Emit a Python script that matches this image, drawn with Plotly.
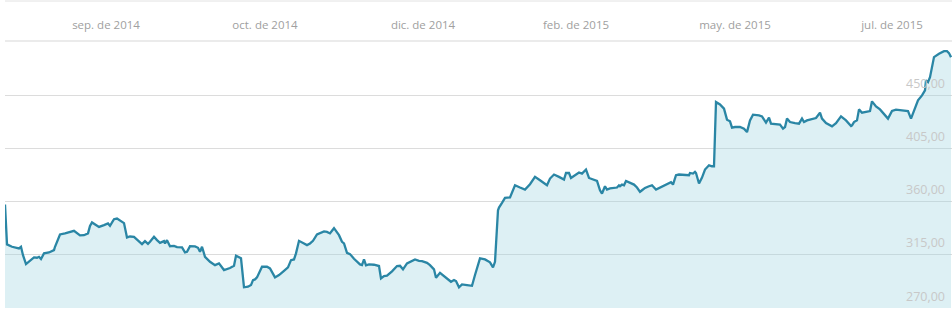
import plotly.graph_objects as go

# trading-session index and closing values
session = [0, 2, 7, 12, 14, 16, 18, 21, 25, 29, 32, 34, 36, 39, 44, 49, 50, 55, 60, 65,
           69, 75, 79, 83, 85, 87, 90, 94, 99, 103, 105, 109, 112, 119, 122, 125, 129, 131, 137, 140,
           143, 145, 149, 152, 155, 159, 160, 162, 165, 169, 172, 177, 180, 182, 185, 190, 193, 195, 197, 200,
           205, 210, 214, 219, 225, 229, 231, 236, 239, 243, 246, 248, 250, 252, 257, 262, 265, 270, 274, 279,
           283, 286, 289, 291, 294, 299, 302, 305, 308, 312, 315, 319, 322, 325, 327, 329, 334, 337, 339, 342,
           345, 349, 355, 357, 359, 361, 364, 369, 374, 376, 379, 382, 387, 392, 395, 398, 402, 407, 410, 414,
           417, 422, 425, 429, 431, 435, 439, 444, 446, 449, 451, 454, 457, 462, 467, 470, 474, 475, 480, 485,
           488, 490, 493, 494, 497, 500, 505, 509, 510, 515, 520, 525, 530, 535, 542, 545, 549, 554, 559, 561,
           564, 566, 570, 574, 577, 579, 581, 584, 587, 592, 595, 597, 600, 602, 605, 609, 612, 614, 615, 617,
           619, 621, 625, 629, 632, 635, 637, 640, 644, 647, 651, 655, 659, 664, 666, 668, 671, 674, 679, 684,
           685, 688, 690, 691, 694, 697, 700, 704, 707, 709, 711, 715, 719, 722, 725, 727, 730, 735, 739, 742,
           745, 748, 754, 757, 761, 764, 766, 772, 775, 778, 780, 782, 785, 790, 794, 797, 799, 802, 806, 811,
           815, 817, 821, 827, 831, 836, 841, 846, 847, 849, 852, 854, 857, 861, 865, 867, 871, 875, 879, 883,
           887, 891, 897, 903, 906, 910, 913, 917, 920, 921, 923, 925, 927, 929, 934, 939, 942, 944, 946]

price = [357.6, 323.8, 321.8, 320.4, 320.4, 321.8, 314.7, 307.1, 309.9, 312.8, 312.5, 313.3, 311.4, 316.2, 317.0, 319.0, 321.8, 332.2, 333.1, 334.2,
         335.3, 331.4, 331.6, 333.1, 339.5, 342.4, 340.9, 338.6, 340.1, 341.5, 339.5, 345.1, 345.7, 341.8, 329.7, 330.5, 330.2, 328.8, 324.0, 326.6,
         324.3, 326.0, 330.2, 327.4, 325.1, 326.6, 324.6, 327.4, 322.3, 322.6, 321.5, 321.2, 317.0, 317.5, 322.3, 322.1, 320.9, 317.5, 321.8, 313.3,
         309.1, 306.3, 307.7, 302.1, 303.8, 305.7, 314.2, 312.0, 287.5, 288.0, 289.4, 293.6, 294.2, 295.9, 304.9, 304.9, 303.5, 295.9, 297.9, 301.5,
         304.4, 310.5, 311.1, 316.2, 326.8, 324.6, 323.2, 324.6, 326.8, 332.2, 333.6, 334.8, 334.4, 333.1, 335.3, 337.5, 331.6, 326.0, 324.6, 316.7,
         315.6, 311.6, 306.9, 306.3, 311.1, 306.1, 306.9, 306.6, 305.5, 295.1, 297.0, 297.3, 301.0, 305.5, 305.7, 302.7, 307.7, 309.7, 311.1, 309.9,
         309.7, 308.2, 306.3, 302.7, 295.6, 299.8, 297.0, 293.6, 292.2, 293.6, 292.8, 287.5, 290.0, 289.4, 288.8, 297.9, 310.5, 312.0, 311.1, 308.6,
         304.4, 309.1, 352.7, 355.0, 358.9, 363.1, 363.5, 372.4, 373.8, 371.9, 370.2, 374.7, 380.9, 378.1, 373.8, 379.5, 382.9, 380.9, 378.7, 384.2,
         384.2, 380.0, 382.3, 384.6, 383.7, 385.1, 387.1, 380.0, 378.9, 377.5, 369.6, 366.8, 373.0, 370.2, 371.1, 371.9, 371.9, 373.8, 373.0, 374.4,
         373.8, 377.5, 376.1, 374.4, 371.9, 368.2, 369.6, 371.6, 373.0, 373.8, 370.2, 371.9, 373.3, 375.8, 376.4, 374.4, 382.3, 382.9, 382.3, 382.3,
         384.2, 383.7, 385.1, 384.2, 375.3, 380.3, 387.1, 390.7, 389.9, 389.9, 444.2, 442.2, 438.6, 429.3, 427.9, 422.6, 423.1, 423.1, 421.7, 418.8,
         428.7, 433.5, 432.9, 432.1, 426.8, 431.0, 425.9, 425.3, 425.1, 421.7, 423.1, 430.2, 427.3, 426.4, 425.9, 430.2, 427.3, 428.7, 429.6, 430.7,
         435.2, 430.2, 426.4, 423.7, 426.4, 432.1, 428.7, 423.9, 424.5, 427.3, 428.7, 438.0, 435.2, 435.7, 436.6, 444.8, 440.5, 438.0, 434.4, 430.2,
         436.6, 437.8, 437.2, 436.6, 430.2, 440.0, 445.6, 449.8, 454.1, 462.5, 461.1, 465.3, 472.4, 482.2, 485.0, 487.2, 487.2, 485.6, 482.2]

x_tick_pos = [101, 260, 418, 571, 730, 887]
x_tick_text = ["sep. de 2014", "oct. de 2014", "dic. de 2014", "feb. de 2015", "may. de 2015", "jul. de 2015"]

y_tick_vals = [270, 315, 360, 405, 450]
y_tick_text = ["270,00", "315,00", "360,00", "405,00", "450,00"]

fig = go.Figure()
fig.add_trace(go.Scatter(
    x=session, y=price, mode="lines",
    line=dict(color="#2a86a5", width=2.3),
    fill="tozeroy", fillcolor="rgba(158,212,224,0.35)",
    hoverinfo="skip", showlegend=False,
))

fig.update_layout(
    width=952, height=311,
    margin=dict(l=5, r=0, t=42, b=3),
    paper_bgcolor="white", plot_bgcolor="white",
    font=dict(family="Open Sans, Segoe UI, sans-serif"),
    xaxis=dict(
        range=[0, 947], side="top",
        tickmode="array", tickvals=x_tick_pos, ticktext=x_tick_text,
        showgrid=False, zeroline=False, ticks="",
        showline=True, linecolor="#ebebeb", linewidth=2,
        tickfont=dict(size=11.5, color="#a0a0a0"),
        ticklabelstandoff=6,
        fixedrange=True,
    ),
    yaxis=dict(
        range=[270, 495], side="right",
        tickmode="array", tickvals=y_tick_vals, ticktext=y_tick_text,
        showgrid=True, gridcolor="#dcdcdc", gridwidth=1,
        zeroline=False, showline=False, ticks="",
        ticklabelposition="inside top",
        ticklabelstandoff=4, ticklabelshift=-3,
        tickfont=dict(size=12.5, color="#c8c8c8"),
        fixedrange=True,
    ),
    shapes=[dict(type="line", xref="paper", yref="paper", x0=0, x1=1,
                 y0=(308 - 1) / 266, y1=(308 - 1) / 266,
                 line=dict(color="#e2e2e2", width=1))],
)

fig.write_html("out.html")
